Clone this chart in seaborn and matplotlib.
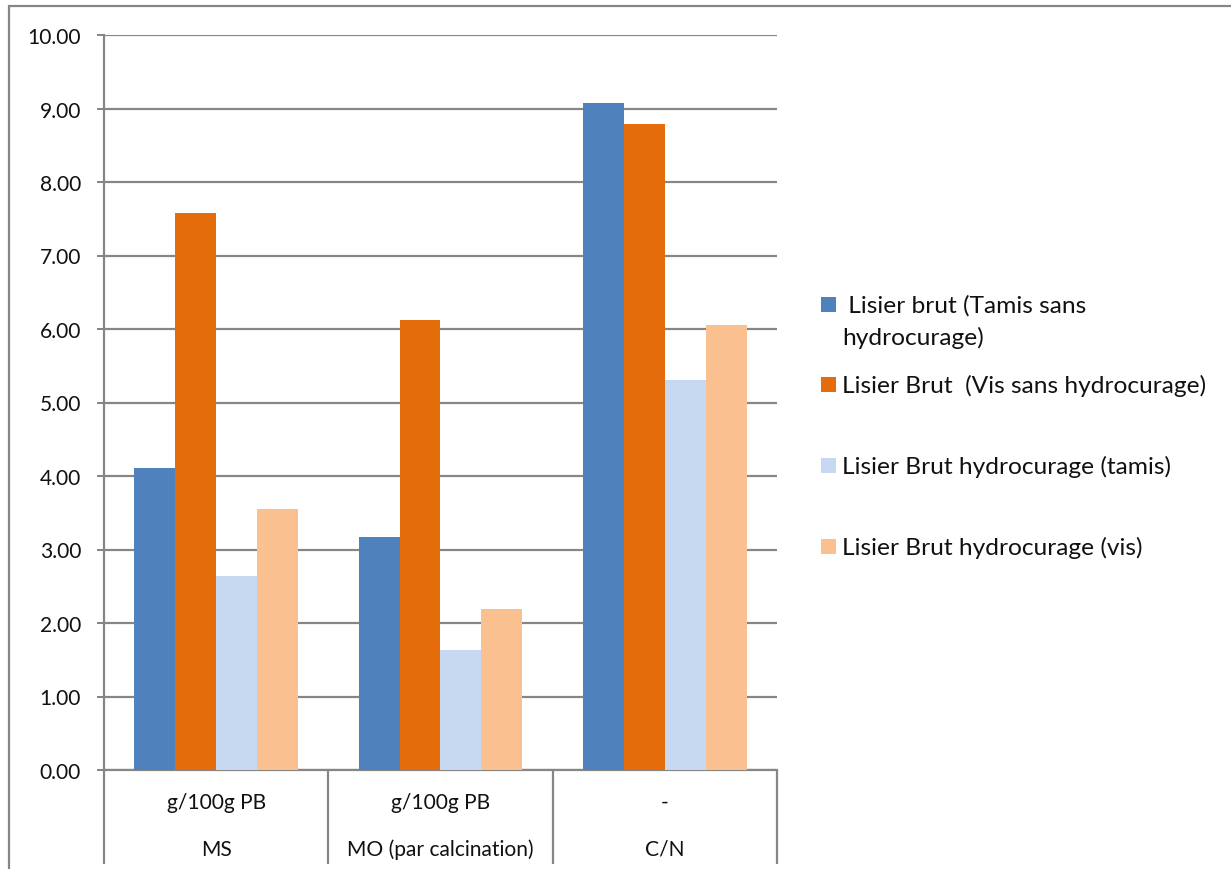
import numpy as np
import pandas as pd
import matplotlib
matplotlib.use("Agg")
import matplotlib.pyplot as plt
import matplotlib.transforms as mtransforms
from matplotlib.patches import Rectangle
import seaborn as sns

# --- data -------------------------------------------------------------
categories = ["MS", "MO (par calcination)", "C/N"]
units = ["g/100g PB", "g/100g PB", "-"]
series = [
    " Lisier brut (Tamis sans\nhydrocurage)",
    "Lisier Brut  (Vis sans hydrocurage)",
    "Lisier Brut hydrocurage (tamis)",
    "Lisier Brut hydrocurage (vis)",
]
tamis_sans = [4.11, 3.17, 9.07]
vis_sans = [7.58, 6.12, 8.79]
tamis_hydro = [2.64, 1.63, 5.30]
vis_hydro = [3.55, 2.19, 6.05]
yticks = [0, 1, 2, 3, 4, 5, 6, 7, 8, 9, 10]

colors = ["#4F81BD", "#E46C0A", "#C6D9F1", "#FAC090"]

rows = []
for name, vals in zip(series, [tamis_sans, vis_sans, tamis_hydro, vis_hydro]):
    for cat, v in zip(categories, vals):
        rows.append({"categorie": cat, "valeur": v, "serie": name})
df = pd.DataFrame(rows)

# --- figure -----------------------------------------------------------
W, H, DPI = 1231, 870, 100
sns.set_theme(style="white")
plt.rcParams["font.family"] = ["Lato", "DejaVu Sans"]
fig = plt.figure(figsize=(W / DPI, H / DPI), dpi=DPI)

def px(v):
    return v * 72.0 / DPI

GRID = "#868686"
left, right, top, bottom = 104, 777, 36, 771
ax = fig.add_axes([left / W, 1 - bottom / H, (right - left) / W, (bottom - top) / H])

sns.barplot(data=df, x="categorie", y="valeur", hue="serie", order=categories,
            hue_order=series, palette=colors, saturation=1, width=0.73,
            edgecolor="none", linewidth=0, ax=ax, legend=False)

ax.set_xlim(-0.5, 2.5)
ax.set_ylim(0, 10)
ax.set_yticks(yticks)
ax.set_yticklabels([f"{t:.2f}" for t in yticks], fontsize=px(21), color="#111111")
ax.set_xticks([])
ax.set_xlabel("")
ax.set_ylabel("")
ax.tick_params(axis="y", length=7 * 72 / DPI, width=px(2), color=GRID,
               pad=px(16), left=True)
ax.set_axisbelow(True)
ax.yaxis.grid(True, color=GRID, linewidth=px(2.2))
for s in ["top", "right"]:
    ax.spines[s].set_visible(False)
for s in ["left", "bottom"]:
    ax.spines[s].set_color(GRID)
    ax.spines[s].set_linewidth(px(2.2))
    ax.spines[s].set_zorder(0.5)

# two-level category axis
trans = mtransforms.blended_transform_factory(ax.transData, ax.transAxes)
ext = (865 - bottom) / (bottom - top)
ax.vlines([-0.5, 0.5, 1.5, 2.5], -ext, 0, transform=trans, colors=GRID,
          linewidth=px(2.2), clip_on=False)
y_unit = -(803 - bottom) / (bottom - top)
y_cat = -(850 - bottom) / (bottom - top)
for i, (cat, unit) in enumerate(zip(categories, units)):
    ax.text(i, y_unit, unit, transform=trans, ha="center", va="center",
            fontsize=px(21), color="#111111")
    ax.text(i, y_cat, cat, transform=trans, ha="center", va="center",
            fontsize=px(21), color="#111111")

# legend
leg_y = [305, 385, 466, 547]
for name, c, yy in zip(series, colors, leg_y):
    fig.add_artist(Rectangle((821 / W, 1 - (yy + 7.5) / H), 15 / W, 15 / H,
                             facecolor=c, edgecolor="none",
                             transform=fig.transFigure))
    fig.text(842 / W, 1 - (yy - 10) / H, name, ha="left", va="top",
             fontsize=px(24.5), color="#111111", linespacing=1.55)

# outer chart frame
fig.add_artist(Rectangle((9 / W, -0.5), 2, 1.5 - 7 / H, facecolor="none",
                         edgecolor=GRID, linewidth=px(2.2),
                         transform=fig.transFigure))

fig.savefig("out.png", dpi=DPI, facecolor="white")
